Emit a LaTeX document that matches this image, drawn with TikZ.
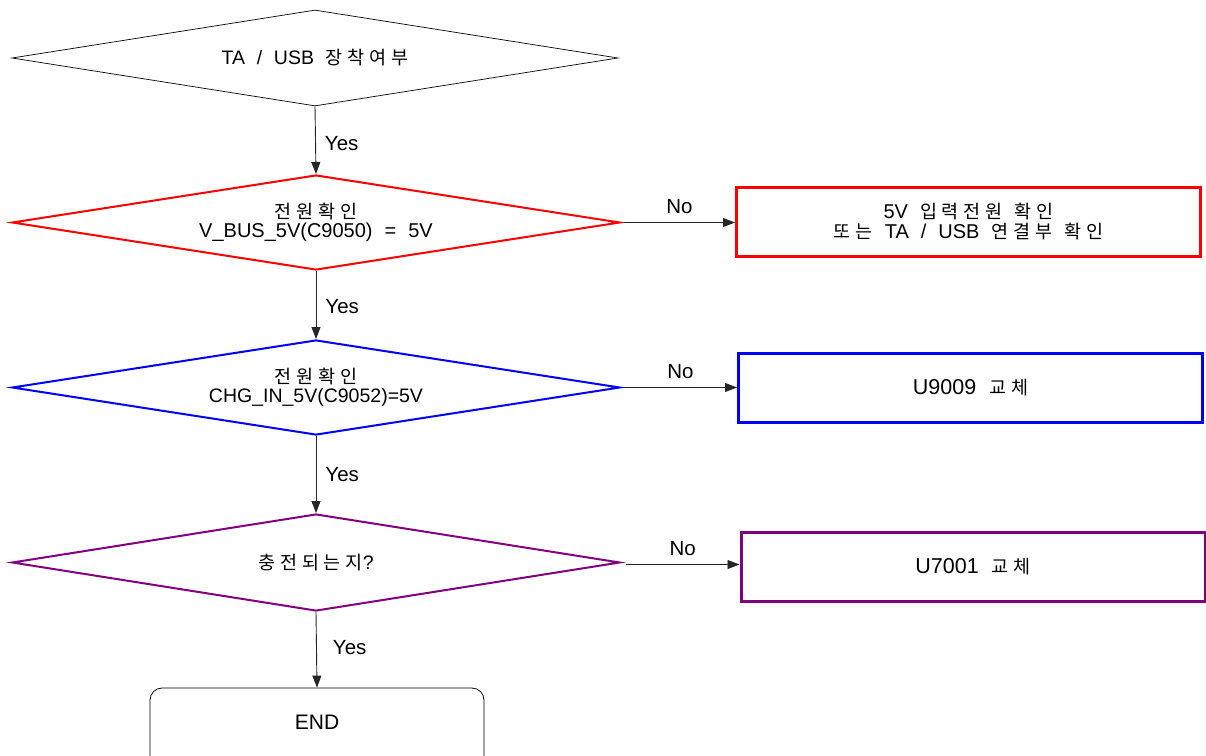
\documentclass[tikz,border=0pt]{standalone}
\usepackage{fontspec}
\setmainfont{Liberation Sans}
\newfontfamily\krf[LetterSpace=26]{Noto Sans CJK KR}
\newcommand\K[1]{{\krf\fontsize{18.5}{20}\selectfont #1}}
\newcommand\SP{\hspace*{0.6em}}
\usetikzlibrary{shapes.geometric,arrows.meta}
\definecolor{cred}{RGB}{255,0,0}
\definecolor{cblue}{RGB}{0,0,255}
\definecolor{cpurple}{RGB}{128,0,128}
\tikzset{
  dec/.style={diamond,draw,inner sep=0pt,shape aspect=6.4,minimum width=608pt,align=center,font=\fontsize{19.5}{21}\selectfont},
  act/.style={rectangle,draw,line width=3pt,minimum width=464pt,minimum height=69pt,align=center,font=\fontsize{20}{22}\selectfont},
  flow/.style={draw=black!85,line width=0.9pt,-{Triangle[length=12pt,width=9pt]}},
  lbl/.style={font=\fontsize{20.5}{22}\selectfont,inner sep=0pt},
}
\begin{document}
\begin{tikzpicture}[x=1pt,y=-1pt]
\useasboundingbox (0,0) rectangle (1206,755);
\clip (0,0) rectangle (1206,755);
\node[dec,line width=0.7pt,minimum width=606pt,minimum height=96pt] (d1) at (315,58) {TA\SP/\SP USB\SP\K{장착여부}};
\node[dec,draw=cred,line width=2pt,minimum height=95pt] (d2) at (316,222.5) {\K{전원확인}\\[-2pt]{\fontsize{20}{22}\selectfont V\_BUS\_5V(C9050)\SP=\SP5V}};
\node[dec,draw=cblue,line width=2pt,minimum height=95pt] (d3) at (316,387.5) {\K{전원확인}\\[-2pt]CHG\_IN\_5V(C9052)=5V};
\node[dec,draw=cpurple,line width=2pt,minimum height=97pt] (d4) at (316,562.5) {\K{충전되는지}?};
\node[act,draw=cred] (b1) at (968.5,221.5) {5V\SP\K{입력전원}\SP\K{확인}\\[-2pt]\K{또는}\SP TA\SP/\SP USB\SP\K{연결부}\SP\K{확인}};
\node[act,draw=cblue,font=\fontsize{21.5}{22}\selectfont] (b2) at (970.5,388) {U9009\SP\K{교체}};
\node[act,draw=cpurple,font=\fontsize{21.5}{22}\selectfont] (b3) at (973,567) {U7001\SP\K{교체}};
\node[rectangle,draw,line width=0.8pt,rounded corners=12pt,minimum width=334pt,minimum height=90pt] (e) at (317,733) {};
\node[font=\fontsize{21}{22}\selectfont] (et) at (317,722) {END};
\coordinate (n2) at ([xshift=3pt]d2.east);
\coordinate (n3) at ([xshift=3pt]d3.east);
\coordinate (n4) at ([xshift=5pt,yshift=-2pt]d4.east);
\draw[flow] (d1.south) -- (d2.north) node[lbl,midway,right=9pt,yshift=-3pt] {Yes};
\draw[flow] (d2.south) -- (d3.north) node[lbl,midway,right=9pt,yshift=-2pt] {Yes};
\draw[flow] (d3.south) -- (d4.north) node[lbl,midway,right=9pt] {Yes};
\draw[flow] (d4.south) -- (e.north) node[lbl,midway,right=16pt,yshift=2pt] {Yes};
\draw[flow] (n2) -- (b1.west |- n2) node[lbl,midway,above=8pt] {No};
\draw[flow] (n3) -- (b2.west |- n3) node[lbl,midway,above=8pt] {No};
\draw[flow] (n4) -- (b3.west |- n4) node[lbl,midway,above=8pt] {No};
\end{tikzpicture}
\end{document}
